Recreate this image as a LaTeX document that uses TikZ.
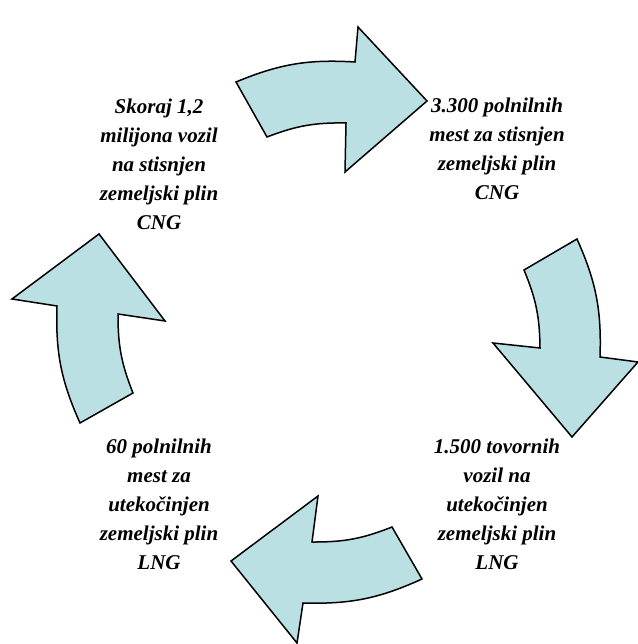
\documentclass[tikz,border=0pt]{standalone}
\usepackage{fontspec}
\setmainfont{Liberation Serif}
\definecolor{cycfill}{RGB}{187,224,227}
\tikzset{
  cycarrow/.style={draw=black, line width=1.5pt, fill=cycfill, line join=miter},
  fact/.style={align=center, inner sep=0pt,
               font=\fontsize{21}{29}\selectfont\bfseries\itshape},
}
\begin{document}
\begin{tikzpicture}[x=1pt, y=1pt]
  \useasboundingbox (0,0) rectangle (637,644);

  % the four curved arrows of the cycle
  \draw[cycarrow] (236,562) to[bend left=13] (355,582) -- (358,617) -- (427,543)
      -- (345,472) -- (346,521) to[bend right=11] (267,507) -- cycle;
  \draw[cycarrow] (577,405) to[bend left=13] (600,287) -- (638,282) -- (572,207)
      -- (493,301) -- (540,296) to[bend right=11] (524,374) -- cycle;
  \draw[cycarrow] (422,65) to[bend left=13] (303,41) -- (297,1) -- (231,83)
      -- (318,148) -- (312,102) to[bend right=11] (392,117) -- cycle;
  \draw[cycarrow] (80,221) to[bend left=13] (57,338) -- (12,345) -- (99,410)
      -- (165,323) -- (118,330) to[bend right=11] (133,251) -- cycle;

  % texts
  \node[fact] (vozilacng) at (159,480)
      {Skoraj 1,2\\milijona vozil\\na stisnjen\\zemeljski plin\\CNG};
  \node[fact] (mestacng) at (497,495)
      {3.300 polnilnih\\mest za stisnjen\\zemeljski plin\\CNG};
  \node[fact] (vozilalng) at (497,140)
      {1.500 tovornih\\vozil na\\utekočinjen\\zemeljski plin\\LNG};
  \node[fact] (mestalng) at (159,140)
      {60 polnilnih\\mest za\\utekočinjen\\zemeljski plin\\LNG};
\end{tikzpicture}
\end{document}
